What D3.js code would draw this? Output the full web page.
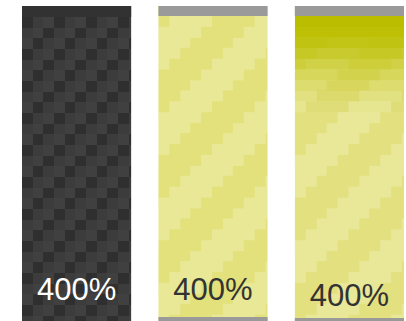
<!DOCTYPE html>
<html>
<head>
<meta charset="utf-8">
<script src="https://cdn.jsdelivr.net/npm/d3@7"></script>
<style>
  html, body { margin: 0; padding: 0; background: #fff; }
  svg { display: block; }
</style>
</head>
<body>
<svg id="chart" width="406" height="321"></svg>
<script>
// ---- data ----
const categories = ["dark", "striped", "gradient"];
const values = [400, 400, 400];
const labels = ["400%", "400%", "400%"];

// ---- layout ----
const topY = 6, bottomY = 321;
const cell = 32 / 3;

const svg = d3.select("#chart");
const x = d3.scaleBand().domain(categories).range([22, 404]).paddingInner(0.2).paddingOuter(0);
const y = d3.scaleLinear().domain([0, 400]).range([bottomY, topY]);

const defs = svg.append("defs");

function checkerPattern(id, ox, oy, base, darkTone, lightTone) {
  const p = defs.append("pattern").attr("id", id).attr("patternUnits", "userSpaceOnUse")
    .attr("x", ox).attr("y", oy).attr("width", 3 * cell).attr("height", 3 * cell);
  p.append("rect").attr("width", 3 * cell).attr("height", 3 * cell).attr("fill", base);
  for (let r = 0; r < 3; r++) for (let c = 0; c < 3; c++) {
    const k = (r + c) % 3;
    if (k === 1) continue;
    p.append("rect").attr("x", c * cell).attr("y", r * cell)
      .attr("width", cell).attr("height", cell)
      .attr("shape-rendering", "crispEdges")
      .attr("fill", k === 0 ? darkTone : lightTone);
  }
}
function stripePattern(id, ox, oy, light, dark, phase) {
  const n = 8;
  const p = defs.append("pattern").attr("id", id).attr("patternUnits", "userSpaceOnUse")
    .attr("x", ox).attr("y", oy).attr("width", n * cell).attr("height", n * cell);
  p.append("rect").attr("width", n * cell).attr("height", n * cell).attr("fill", dark);
  for (let r = 0; r < n; r++) for (let c = 0; c < n; c++) {
    const d = (r + c + phase) % n;
    if (d >= 4) continue;
    p.append("rect").attr("x", c * cell).attr("y", r * cell)
      .attr("width", cell).attr("height", cell)
      .attr("shape-rendering", "crispEdges")
      .attr("fill", light);
  }
}

const x0 = x(categories[0]), x1 = x(categories[1]), x2 = x(categories[2]);
checkerPattern("pat0", x0, 17, "#3c3c3c", "#2f2f2f", "#404040");
stripePattern("pat1", x1, 16, "#e9e896", "#e3e17c", 7);
stripePattern("pat2", x2, 16, "#e9e899", "#e2e07f", 3);

const fills = ["url(#pat0)", "url(#pat1)", "url(#pat2)"];

const g = svg.append("g");
g.selectAll("rect.bar").data(categories).join("rect")
  .attr("class", "bar")
  .attr("x", d => x(d))
  .attr("y", (d, i) => y(values[i]))
  .attr("width", x.bandwidth())
  .attr("height", (d, i) => y(0) - y(values[i]))
  .attr("fill", (d, i) => fills[i]);

g.append("rect").attr("x", x0).attr("y", y(values[0])).attr("width", x.bandwidth())
  .attr("height", 11).attr("fill", "#323232");

const alphas = [1, 0.96, 0.86, 0.7, 0.54, 0.4, 0.27, 0.15, 0.06];
const nCols = Math.ceil(x.bandwidth() / cell);
for (let r = 0; r < alphas.length; r++) {
  g.append("rect")
    .attr("x", x2).attr("y", 16 + r * cell)
    .attr("width", x.bandwidth())
    .attr("height", cell)
    .attr("shape-rendering", "crispEdges")
    .attr("fill", "#bbbe00").attr("fill-opacity", alphas[r]);
}

[1, 2].forEach(i => {
  const xi = x(categories[i]);
  g.append("rect").attr("x", xi).attr("y", y(values[i])).attr("width", x.bandwidth())
    .attr("height", 10).attr("fill", "#9a9a9a");
  g.append("rect").attr("x", xi).attr("y", i === 1 ? 317 : 318).attr("width", x.bandwidth())
    .attr("height", 5).attr("fill", "#9a9a9a");
});

const textColors = ["#ffffff", "#333333", "#333333"];
const baselines = [300, 300, 306];
g.selectAll("text.lbl").data(categories).join("text")
  .attr("class", "lbl")
  .attr("x", d => x(d) + x.bandwidth() / 2)
  .attr("y", (d, i) => baselines[i])
  .attr("text-anchor", "middle")
  .attr("font-family", "Liberation Sans, Arial, sans-serif")
  .attr("font-size", 31)
  .attr("fill", (d, i) => textColors[i])
  .text((d, i) => labels[i]);
</script>
</body>
</html>
